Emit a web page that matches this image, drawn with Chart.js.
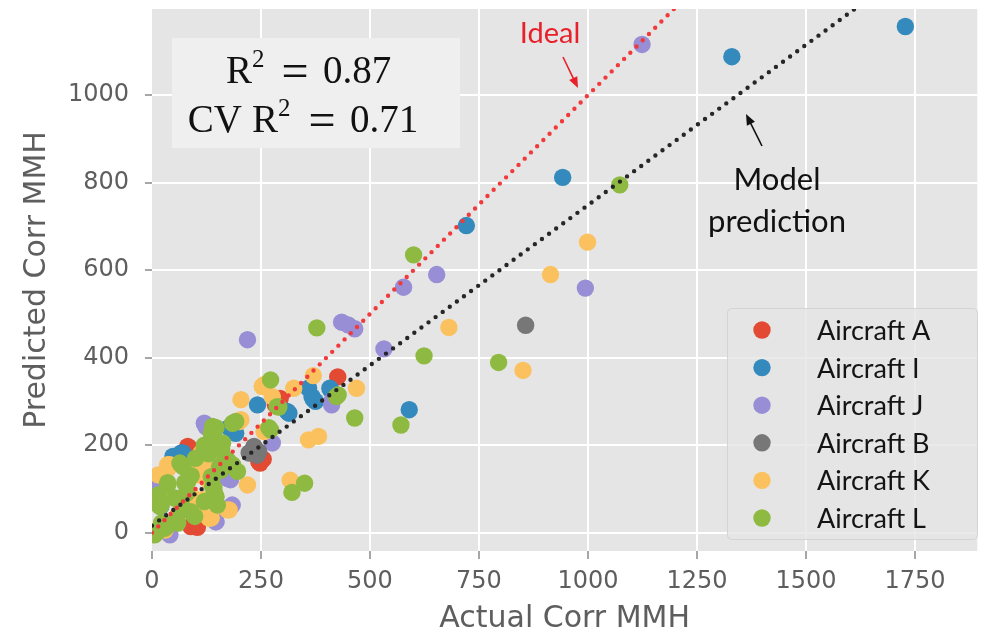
<!DOCTYPE html>
<html>
<head>
<meta charset="utf-8">
<script src="https://cdn.jsdelivr.net/npm/chart.js@4.4.1/dist/chart.umd.min.js"></script>
<style>
  html, body { margin: 0; padding: 0; background: #ffffff; }
  #wrap { width: 986px; height: 633px; position: relative; }
</style>
</head>
<body>
<div id="wrap"><canvas id="chart"></canvas></div>
<script>
// Series names and colours (ggplot palette)
const seriesNames  = ['Aircraft A', 'Aircraft I', 'Aircraft J', 'Aircraft B', 'Aircraft K', 'Aircraft L'];
const seriesColors = ['#E24A33', '#348ABD', '#988ED5', '#777777', '#FBC15E', '#8EBA42'];

// [actual, predicted] pairs per aircraft
const aircraftA = [[7,102],[5,70],[33,8],[38,2],[86,193],[78,180],[95,16],[104,12],[124,130],
  [245,162],[255,168],[283,292],[426,356],[82,197],[248,159],[89,14],[105,22],[6,102],[294,307]];
const aircraftI = [[1728,1157],[1330,1088],[942,812],[721,702],[590,281],[359,330],[367,311],
  [375,300],[408,330],[411,325],[310,277],[314,273],[242,292],[370,305],[192,227],[189,235],
  [177,240],[241,178],[71,182],[48,174],[20,60],[67,182]];
const aircraftJ = [[1124,1116],[994,559],[577,561],[653,590],[435,481],[450,475],[465,466],
  [532,420],[219,441],[412,300],[412,292],[276,205],[124,242],[173,124],[184,63],[147,25],
  [41,-5],[11,102],[120,250],[180,121],[146,25],[21,6]];
const aircraftB = [[857,474],[234,197],[223,182],[245,185],[233,193],[241,178]];
const aircraftK = [[999,664],[914,590],[681,469],[851,371],[469,330],[370,359],[359,212],
  [382,220],[317,120],[219,109],[204,304],[253,334],[276,311],[325,330],[204,258],[257,231],
  [200,254],[177,52],[136,34],[113,182],[116,174],[120,151],[37,147],[41,155],[94,63],
  [18,82],[14,68],[30,6],[113,68],[117,75],[173,52],[257,338],[116,182],[36,155],[108,56],
  [131,33],[59,40],[89,147],[105,132],[127,121],[89,86],[14,132]];
const aircraftL = [[1073,795],[600,635],[795,389],[624,404],[571,246],[465,262],[378,468],
  [272,349],[423,311],[427,315],[321,92],[350,113],[272,235],[268,240],[185,250],[291,287],
  [287,288],[139,231],[162,205],[155,151],[185,155],[147,82],[79,90],[18,60],[33,14],[11,0],
  [7,2],[22,22],[59,22],[98,37],[67,52],[52,79],[14,86],[143,91],[139,105],[147,67],[36,114],
  [75,114],[136,128],[158,143],[71,151],[64,159],[173,166],[196,140],[139,212],[139,243],
  [192,254],[136,227],[147,240],[120,200],[100,170],[90,130],[130,180],[160,190],
  [142,231],[154,201],[165,162],[139,128],[120,193],[67,155],[82,117],[36,109],[142,102],
  [120,71],[150,63],[52,25],[21,63],[29,10],[6,-5],[89,48],[67,71]];

// Reference lines: y = x and the fitted model
const idealLine = [[0, 0], [1200, 1200]];
const modelLine = [[0, 16], [1620, 1203]];

// Axis ticks
const xTicks = [0, 250, 500, 750, 1000, 1250, 1500, 1750];
const xTickLabels = ['0', '250', '500', '750', '1000', '1250', '1500', '1750'];
const yTicks = [0, 200, 400, 600, 800, 1000];
const yTickLabels = ['0', '200', '400', '600', '800', '1000'];

const pointSeries = [aircraftA, aircraftI, aircraftJ, aircraftB, aircraftK, aircraftL];

const toXY = pts => pts.map(([x, y]) => ({ x, y }));

const datasets = pointSeries.map((pts, i) => ({
  label: seriesNames[i],
  data: toXY(pts),
  backgroundColor: seriesColors[i],
  borderWidth: 0,
  pointRadius: 8.7,
  pointHoverRadius: 8.7,
  order: 10 - i
}));

datasets.push({
  label: 'Ideal',
  guide: true,
  data: toXY(idealLine),
  showLine: true,
  borderColor: '#f03a3c',
  borderWidth: 4.4,
  borderDash: [0, 8.8],
  borderCapStyle: 'round',
  pointRadius: 0,
  order: 1
});
datasets.push({
  label: 'Model prediction',
  guide: true,
  data: toXY(modelLine),
  showLine: true,
  borderColor: '#262626',
  borderWidth: 4.4,
  borderDash: [0, 8.8],
  borderCapStyle: 'round',
  pointRadius: 0,
  order: 0
});

// Grey panel behind the data
const plotBackground = {
  id: 'plotBackground',
  beforeDraw(chart) {
    const { ctx, chartArea: a } = chart;
    ctx.save();
    ctx.fillStyle = '#ffffff';
    ctx.fillRect(0, 0, chart.width, chart.height);
    ctx.fillStyle = '#e5e5e5';
    ctx.fillRect(a.left, a.top, a.right - a.left, a.bottom - a.top);
    ctx.restore();
  }
};

function arrow(ctx, x1, y1, x2, y2, color) {
  const ang = Math.atan2(y2 - y1, x2 - x1);
  const len = 11, half = 4.5;
  ctx.save();
  ctx.strokeStyle = color;
  ctx.fillStyle = color;
  ctx.lineWidth = 1.6;
  ctx.beginPath();
  ctx.moveTo(x1, y1);
  ctx.lineTo(x2 - Math.cos(ang) * len * 0.8, y2 - Math.sin(ang) * len * 0.8);
  ctx.stroke();
  ctx.beginPath();
  ctx.moveTo(x2, y2);
  ctx.lineTo(x2 - Math.cos(ang) * len + Math.sin(ang) * half, y2 - Math.sin(ang) * len - Math.cos(ang) * half);
  ctx.lineTo(x2 - Math.cos(ang) * len - Math.sin(ang) * half, y2 - Math.sin(ang) * len + Math.cos(ang) * half);
  ctx.closePath();
  ctx.fill();
  ctx.restore();
}

// Text boxes, arrows and the legend
const overlay = {
  id: 'overlay',
  afterDraw(chart) {
    const ctx = chart.ctx;
    ctx.save();

    // Score box
    ctx.fillStyle = '#efefef';
    ctx.fillRect(172, 38, 288, 110);
    ctx.fillStyle = '#111111';
    ctx.textBaseline = 'alphabetic';
    ctx.textAlign = 'left';
    const serif = '"Liberation Serif", "DejaVu Serif", serif';
    // line 1
    ctx.font = '39px ' + serif;
    ctx.fillText('R', 226, 83);
    ctx.font = '25px ' + serif;
    ctx.fillText('2', 252, 67);
    ctx.font = '48px ' + serif;
    ctx.textAlign = 'center';
    ctx.fillText('=', 295, 87);
    ctx.textAlign = 'left';
    ctx.font = '39px ' + serif;
    ctx.fillText('0.87', 323, 83);
    // line 2
    ctx.textAlign = 'right';
    ctx.fillText('CV', 242, 132);
    ctx.textAlign = 'left';
    ctx.fillText('R', 252, 132);
    ctx.font = '25px ' + serif;
    ctx.fillText('2', 278, 116);
    ctx.font = '48px ' + serif;
    ctx.textAlign = 'center';
    ctx.fillText('=', 322, 136);
    ctx.textAlign = 'left';
    ctx.font = '39px ' + serif;
    ctx.fillText('0.71', 350, 132);

    // "Ideal" label
    ctx.fillStyle = '#e8202a';
    ctx.font = '29px Lato, "Open Sans", sans-serif';
    ctx.textAlign = 'center';
    ctx.fillText('Ideal', 550, 43);
    arrow(ctx, 563, 57, 578, 88, '#e8202a');

    // "Model prediction" label
    ctx.fillStyle = '#111111';
    ctx.font = '31px Lato, "Open Sans", sans-serif';
    ctx.fillText('Model', 777, 190);
    ctx.fillText('prediction', 777, 232);
    arrow(ctx, 762, 146, 746, 114, '#111111');

    // Legend
    const lx = 727, ly = 308, lw = 250, lh = 231;
    ctx.beginPath();
    ctx.roundRect(lx + 0.5, ly + 0.5, lw, lh, 4);
    ctx.fillStyle = 'rgba(229,229,229,0.8)';
    ctx.fill();
    ctx.strokeStyle = '#d4d4d4';
    ctx.lineWidth = 1;
    ctx.stroke();

    const items = chart.data.datasets.filter(d => !d.guide);
    ctx.font = '27px Lato, "Open Sans", sans-serif';
    ctx.textAlign = 'left';
    items.forEach((d, i) => {
      const cy = 330 + i * 37.6;
      ctx.fillStyle = d.backgroundColor;
      ctx.beginPath();
      ctx.arc(762, cy, 8.7, 0, Math.PI * 2);
      ctx.fill();
      ctx.fillStyle = '#141414';
      ctx.fillText(d.label, 817, cy + 10);
    });

    ctx.restore();
  }
};

const axisFont = { family: '"DejaVu Sans", sans-serif', size: 24 };
const titleFont = { family: '"DejaVu Sans", sans-serif', size: 30, lineHeight: 0.9 };

new Chart(document.getElementById('chart'), {
  type: 'scatter',
  data: { datasets },
  plugins: [plotBackground, overlay],
  options: {
    responsive: true,
    maintainAspectRatio: false,
    animation: false,
    events: [],
    layout: { padding: { left: 0, right: 1, top: 9, bottom: 0 } },
    plugins: {
      legend: { display: false },
      tooltip: { enabled: false }
    },
    scales: {
      x: {
        type: 'linear',
        min: 0,
        max: 1893,
        afterBuildTicks: s => { s.ticks = xTicks.map(v => ({ value: v })); },
        afterFit: s => { s.height = 82; s.paddingLeft = 0; s.paddingRight = 0; },
        border: { display: false },
        grid: {
          color: c => (c.tick && c.tick.value === 0) ? 'rgba(0,0,0,0)' : '#ffffff',
          lineWidth: 2,
          tickLength: 8,
          tickColor: '#8a8a8a',
          tickWidth: 1.5
        },
        ticks: {
          color: '#5e5e5e',
          font: axisFont,
          padding: 8,
          maxRotation: 0,
          autoSkip: false,
          callback: (v, i) => xTickLabels[i]
        },
        title: {
          display: true,
          text: 'Actual Corr MMH',
          color: '#5e5e5e',
          font: titleFont,
          padding: { top: 0, bottom: 0 }
        }
      },
      y: {
        type: 'linear',
        min: -42,
        max: 1197,
        afterBuildTicks: s => { s.ticks = yTicks.map(v => ({ value: v })); },
        afterFit: s => { s.width = 152; s.paddingTop = 0; s.paddingBottom = 0; },
        border: { display: false },
        grid: {
          color: '#ffffff',
          lineWidth: 2,
          tickLength: 7,
          tickColor: '#8a8a8a',
          tickWidth: 1.5
        },
        ticks: {
          color: '#5e5e5e',
          font: axisFont,
          padding: 16,
          callback: (v, i) => yTickLabels[i]
        },
        title: {
          display: true,
          text: 'Predicted Corr MMH',
          color: '#5e5e5e',
          font: titleFont,
          padding: { top: 24, bottom: 0 }
        }
      }
    }
  }
});
</script>
</body>
</html>
